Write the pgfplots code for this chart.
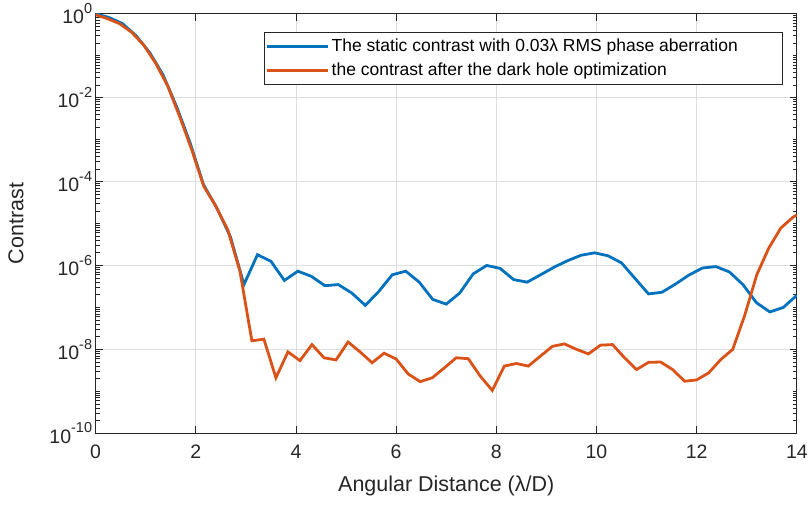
\documentclass[border=0pt]{standalone}
\usepackage{fontspec}
\setmainfont{Liberation Sans}
\usepackage{pgfplots}
\pgfplotsset{compat=1.18}
\definecolor{mblue}{rgb}{0,0.447,0.741}
\definecolor{morange}{rgb}{0.85,0.325,0.098}
\newcommand{\tp}[1]{10\raisebox{10.5pt}{\fontsize{14.5}{14.5}\selectfont #1}}
\begin{document}
\begin{tikzpicture}
\begin{axis}[
  scale only axis, width=702pt, height=420pt,
  xmin=0, xmax=14, ymin=1e-10, ymax=1, ymode=log,
  xtick={0,2,...,14},
  ytick={1e-10,1e-8,1e-6,1e-4,1e-2,1},
  yticklabels={\tp{-10},\tp{-8},\tp{-6},\tp{-4},\tp{-2},\tp{0}},
  minor ytick={1e-10,2e-10,3e-10,4e-10,5e-10,6e-10,7e-10,8e-10,9e-10,
    1e-9,2e-9,3e-9,4e-9,5e-9,6e-9,7e-9,8e-9,9e-9,
    1e-8,2e-8,3e-8,4e-8,5e-8,6e-8,7e-8,8e-8,9e-8,
    1e-7,2e-7,3e-7,4e-7,5e-7,6e-7,7e-7,8e-7,9e-7,
    1e-6,2e-6,3e-6,4e-6,5e-6,6e-6,7e-6,8e-6,9e-6,
    1e-5,2e-5,3e-5,4e-5,5e-5,6e-5,7e-5,8e-5,9e-5,
    1e-4,2e-4,3e-4,4e-4,5e-4,6e-4,7e-4,8e-4,9e-4,
    1e-3,2e-3,3e-3,4e-3,5e-3,6e-3,7e-3,8e-3,9e-3,
    1e-2,2e-2,3e-2,4e-2,5e-2,6e-2,7e-2,8e-2,9e-2,
    1e-1,2e-1,3e-1,4e-1,5e-1,6e-1,7e-1,8e-1,9e-1},
  major tick length=7pt, minor tick length=4pt,
  every tick/.style={black!85, line width=0.7pt},
  grid=major, grid style={black!13, line width=0.7pt},
  axis line style={black!85, line width=0.8pt},
  tick label style={font=\fontsize{19.5}{22}\selectfont, black!85},
  xticklabel style={/pgf/number format/assume math mode=true, yshift=-8pt},
  label style={font=\fontsize{21.5}{25}\selectfont, black!85},
  xlabel={Angular Distance (λ/D)},
  ylabel={Contrast},
  xlabel shift=10pt, ylabel shift=19pt,
  legend style={at={(0.979,0.957)}, anchor=north east, draw=black!85,
    line width=0.6pt, font=\fontsize{17.5}{22}\selectfont,
    cells={anchor=west}, inner xsep=2pt, inner ysep=5pt, row sep=6pt},
  legend image code/.code={\draw[#1] (0pt,0pt) -- (61pt,0pt);},
]
\addplot[mblue, line width=2.8pt] coordinates {
(0,1.0) (0.2692,0.81) (0.5385,0.58) (0.8077,0.30) (1.0769,0.12)
(1.3462,0.035) (1.6154,6.2e-3) (1.8846,8.5e-4) (2.1538,8.5e-5) (2.4231,2.3e-5)
(2.6923,4.8e-6) (2.9615,3.5e-7) (3.2308,1.8e-6) (3.5,1.26e-6) (3.7692,4.4e-7)
(4.0385,7.3e-7) (4.3077,5.5e-7) (4.5769,3.3e-7) (4.8462,3.5e-7) (5.1154,2.2e-7)
(5.3846,1.12e-7) (5.6538,2.4e-7) (5.9231,6.0e-7) (6.1923,7.3e-7) (6.4615,4.0e-7)
(6.7308,1.55e-7) (7.0,1.2e-7) (7.2692,2.2e-7) (7.5385,6.3e-7) (7.8077,1.0e-6)
(8.0769,8.5e-7) (8.3462,4.6e-7) (8.6154,4.0e-7) (8.8846,6.0e-7) (9.1538,9.1e-7)
(9.4231,1.3e-6) (9.6923,1.75e-6) (9.9615,2.0e-6) (10.2308,1.7e-6) (10.5,1.15e-6)
(10.7692,4.9e-7) (11.0385,2.1e-7) (11.3077,2.3e-7) (11.5769,3.6e-7) (11.8462,5.9e-7)
(12.1154,8.7e-7) (12.3846,9.4e-7) (12.6538,7.0e-7) (12.9231,3.5e-7) (13.1923,1.3e-7)
(13.4615,7.8e-8) (13.7308,1.0e-7) (14.0,1.95e-7)
};
\addlegendentry{The static contrast with 0.03λ RMS phase aberration\hspace*{40pt}}
\addplot[morange, line width=2.8pt] coordinates {
(0,0.95) (0.24,0.76) (0.48,0.58) (0.72,0.36) (0.96,0.18)
(1.2,0.066) (1.44,0.019) (1.68,3.5e-3) (1.92,5.7e-4) (2.16,7.7e-5)
(2.4,2.6e-5) (2.64,7e-6) (2.88,7.5e-7) (3.12,1.6e-8) (3.36,1.75e-8)
(3.6,2.1e-9) (3.84,8.7e-9) (4.08,5.4e-9) (4.32,1.3e-8) (4.56,6.3e-9)
(4.8,5.6e-9) (5.04,1.5e-8) (5.28,8.7e-9) (5.52,4.8e-9) (5.76,8.1e-9)
(6.0,5.9e-9) (6.24,2.6e-9) (6.48,1.7e-9) (6.72,2.1e-9) (6.96,3.6e-9)
(7.2,6.3e-9) (7.44,6.0e-9) (7.68,2.3e-9) (7.92,1.05e-9) (8.16,4.0e-9)
(8.4,4.6e-9) (8.64,4.0e-9) (8.88,6.9e-9) (9.12,1.18e-8) (9.36,1.35e-8)
(9.6,1.0e-8) (9.84,7.8e-9) (10.08,1.26e-8) (10.32,1.3e-8) (10.56,6.3e-9)
(10.8,3.3e-9) (11.04,4.9e-9) (11.28,5.0e-9) (11.52,3.3e-9) (11.76,1.74e-9)
(12.0,1.87e-9) (12.24,2.75e-9) (12.48,5.7e-9) (12.72,1.0e-8) (12.96,6.5e-8)
(13.2,6.0e-7) (13.44,2.6e-6) (13.68,7.8e-6) (13.92,1.4e-5) (14.0,1.6e-5)
};
\addlegendentry{the contrast after the dark hole optimization}
\end{axis}
\path ([xshift=-95.7pt,yshift=-71.7pt]current axis.south west) rectangle ([xshift=13.3pt,yshift=12.3pt]current axis.north east);
\end{tikzpicture}
\end{document}
